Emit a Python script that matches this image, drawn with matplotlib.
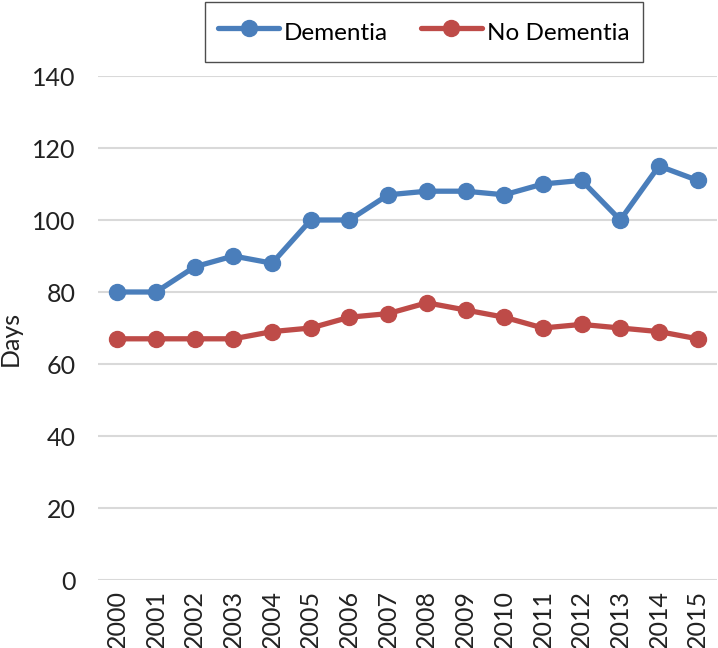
import matplotlib
matplotlib.use("Agg")
import matplotlib.pyplot as plt

years = ["2000", "2001", "2002", "2003", "2004", "2005", "2006", "2007",
         "2008", "2009", "2010", "2011", "2012", "2013", "2014", "2015"]
dementia = [80, 80, 87, 90, 88, 100, 100, 107, 108, 108, 107, 110, 111, 100, 115, 111]
no_dementia = [67, 67, 67, 67, 69, 70, 73, 74, 77, 75, 73, 70, 71, 70, 69, 67]
yticks = [0, 20, 40, 60, 80, 100, 120, 140]

plt.rcParams['font.family'] = ['Lato', 'DejaVu Sans']

W, H = 718, 648
fig = plt.figure(figsize=(W / 100, H / 100), dpi=100)
AX_L, AX_R = 98, 717
ax = fig.add_axes([AX_L / W, (H - 580) / H, (AX_R - AX_L) / W, (580 - 76) / H])

x = list(range(len(years)))
blue = "#4A7EBB"
red = "#BE4B48"
ax.plot(x, dementia, color=blue, lw=3.8, marker="o", ms=11.5, label="Dementia",
        solid_capstyle="round", zorder=3)
ax.plot(x, no_dementia, color=red, lw=3.8, marker="o", ms=11.5, label="No Dementia",
        solid_capstyle="round", zorder=3)

ax.set_xlim(-0.5, len(years) - 0.5)
ax.set_ylim(0, 140)
ax.set_yticks(yticks)
ax.set_yticklabels([str(v) for v in yticks], fontsize=18, color="#222222")
ax.set_xticks(x)
ax.set_xticklabels(years, rotation=90, fontsize=18, color="#222222")
ax.tick_params(axis="both", length=0)
ax.tick_params(axis="y", pad=16)
ax.tick_params(axis="x", pad=7)
ax.grid(axis="y", color="#D9D9D9", lw=1.5)
ax.set_axisbelow(True)
for s in ax.spines.values():
    s.set_visible(False)

ax.set_ylabel("Days", fontsize=18, color="#222222")
ax.yaxis.set_label_coords((22 - AX_L) / (AX_R - AX_L), 0.48)

leg = fig.legend(loc="upper left", bbox_to_anchor=(205 / W, 1 - 2 / H), ncol=2,
                 fontsize=17.5, frameon=True, fancybox=False, edgecolor="#222222",
                 handlelength=2.5, columnspacing=1.35, borderpad=0.55, handletextpad=0.2,
                 handleheight=1.75, borderaxespad=0)
leg.get_frame().set_linewidth(1.0)

fig.savefig("out.png", dpi=100)
